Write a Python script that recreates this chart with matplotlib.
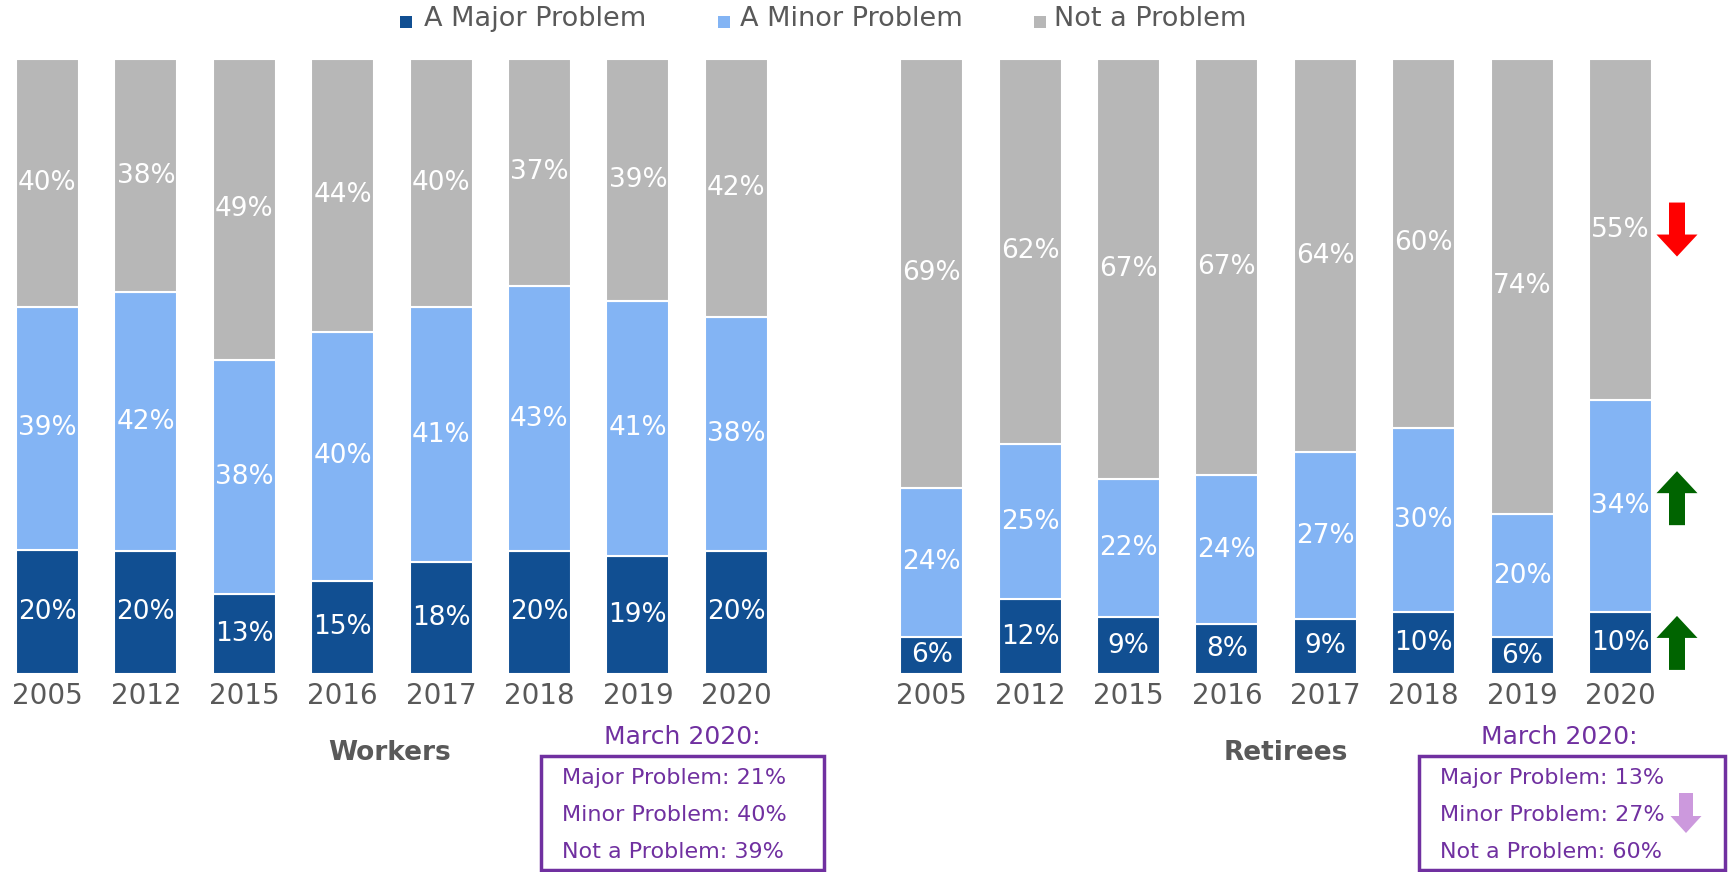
import matplotlib
matplotlib.use("Agg")
import matplotlib.pyplot as plt
import numpy as np
from matplotlib.patches import Rectangle, Polygon
from matplotlib.transforms import Affine2D, ScaledTranslation

plt.rcParams['font.family'] = ['DejaVu Sans']

# ---------------- data ----------------
years = ['2005', '2012', '2015', '2016', '2017', '2018', '2019', '2020']
series_names = ['A Major Problem', 'A Minor Problem', 'Not a Problem']
workers_major = [20, 20, 13, 15, 18, 20, 19, 20]
workers_minor = [39, 42, 38, 40, 41, 43, 41, 38]
workers_not = [40, 38, 49, 44, 40, 37, 39, 42]
retirees_major = [6, 12, 9, 8, 9, 10, 6, 10]
retirees_minor = [24, 25, 22, 24, 27, 30, 20, 34]
retirees_not = [69, 62, 67, 67, 64, 60, 74, 55]
workers_march = ['Major Problem: 21%', 'Minor Problem: 40%', 'Not a Problem: 39%']
retirees_march = ['Major Problem: 13%', 'Minor Problem: 27%', 'Not a Problem: 60%']
# arrows on the retirees 2020 bar: (segment index, direction, colour)
retiree_arrows = [(2, 'down', '#FF0000'), (1, 'up', '#006400'), (0, 'up', '#006400')]

colors = ['#114F92', '#83B4F4', '#B7B7B7']
gray_txt = '#595959'
purple = '#7030A0'

W, H = 1733, 872
fig = plt.figure(figsize=(W / 100, H / 100), dpi=100)


def px_axes(l, t, r, b):
    return fig.add_axes([l / W, 1 - b / H, (r - l) / W, (b - t) / H])


def fx(x):
    return x / W


def fy(y):
    return 1 - y / H


spacing = 98.4
bar_w = 0.64
top_px, bot_px = 58.6, 674


def draw_panel(ax, first_center_px, left_px, right_px, data):
    ax.set_xlim(-(first_center_px - left_px) / spacing, (right_px - first_center_px) / spacing)
    ax.set_ylim(0, 100)
    x = np.arange(len(years))
    arr = np.array(data, dtype=float)
    tot = arr.sum(axis=0)
    norm = arr / tot * 100
    bottom = np.zeros(len(years))
    mids = []
    for i in range(3):
        ax.bar(x, norm[i], bar_w, bottom=bottom, color=colors[i],
               edgecolor='white', linewidth=1.5, zorder=2)
        mid = bottom + norm[i] / 2
        mids.append(mid)
        for xi, m, v in zip(x, mid, arr[i]):
            ax.text(xi, m, f'{int(v)}%', ha='center', va='center', color='white',
                    fontsize=19, zorder=3)
        bottom = bottom + norm[i]
    ax.set_xticks(x)
    ax.set_xticklabels(years, fontsize=20, color=gray_txt)
    ax.tick_params(axis='x', length=0, pad=6)
    ax.set_yticks([])
    for s in ax.spines.values():
        s.set_visible(False)
    ax.patch.set_visible(False)
    return x, mids


axL = px_axes(0, top_px, 800, bot_px)
draw_panel(axL, 47.5, 0, 800, [workers_major, workers_minor, workers_not])

axR = px_axes(880, top_px, 1733, bot_px)
xr, mids_r = draw_panel(axR, 931.7, 880, 1733, [retirees_major, retirees_minor, retirees_not])


def arrow_verts(direction, dx, dy=0, w=41, sw=16, h=54, hl=22):
    v = [(-sw / 2, h / 2), (sw / 2, h / 2), (sw / 2, -h / 2 + hl), (w / 2, -h / 2 + hl),
         (0, -h / 2), (-w / 2, -h / 2 + hl), (-sw / 2, -h / 2 + hl)]
    if direction == 'up':
        v = [(a, -b) for a, b in v]
    return [(a + dx, b + dy) for a, b in v]


arrow_dy = [0, 8, 0]
for (seg, direc, col), ddy in zip(retiree_arrows, arrow_dy):
    xb = xr[-1]
    yb = mids_r[seg][-1]
    tr = Affine2D() + ScaledTranslation(xb, yb, axR.transData)
    axR.add_patch(Polygon(arrow_verts(direc, 56.5, ddy), closed=True, facecolor=col,
                          edgecolor='none', transform=tr, clip_on=False, zorder=4))

# legend
leg_items = [(406, 424), (724, 740), (1040, 1054)]
for (mx, tx), name, c in zip(leg_items, series_names, colors):
    fig.add_artist(Rectangle((fx(mx - 6), fy(28)), 12 / W, 12 / H, transform=fig.transFigure,
                             facecolor=c, edgecolor='none'))
    fig.text(fx(tx), fy(19), name, ha='left', va='center', fontsize=19.5, color=gray_txt)

# panel titles
fig.text(fx(390), fy(753), 'Workers', ha='center', va='center', fontsize=19,
         fontweight='bold', color=gray_txt)
fig.text(fx(1286), fy(753), 'Retirees', ha='center', va='center', fontsize=19,
         fontweight='bold', color=gray_txt)


def march_box(l, r, t, b, title_x, text_x, lines):
    fig.add_artist(Rectangle((fx(l), fy(b)), (r - l) / W, (b - t) / H, transform=fig.transFigure,
                             facecolor='none', edgecolor=purple, linewidth=2.5))
    fig.text(fx(title_x), fy(737), 'March 2020:', ha='center', va='center', fontsize=18,
             color=purple)
    for yy, s in zip([778, 815, 852], lines):
        fig.text(fx(text_x), fy(yy), s, ha='left', va='center', fontsize=16, color=purple)


march_box(541, 824, 756, 870, 682, 562, workers_march)
march_box(1419, 1725, 756, 870, 1559, 1440, retirees_march)

# light purple arrow in retiree box
tr = Affine2D().translate(1686, H - 813)
fig.add_artist(Polygon(arrow_verts('down', 0, 0, w=31, sw=14, h=40, hl=17), closed=True,
                       facecolor='#CC99DD', edgecolor='none', transform=tr))

fig.savefig('out.png', dpi=100)
